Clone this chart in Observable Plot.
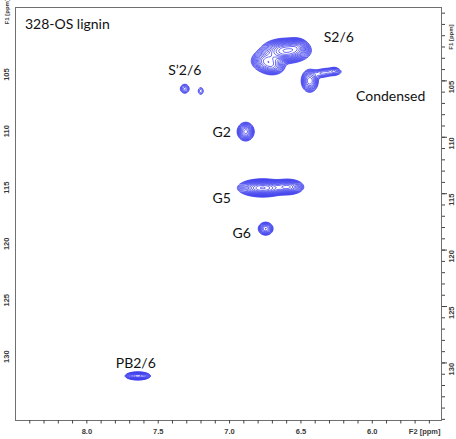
<!DOCTYPE html>
<html><head><meta charset="utf-8">
<script src="https://cdn.jsdelivr.net/npm/d3@7"></script>
<script src="https://cdn.jsdelivr.net/npm/@observablehq/plot@0.6"></script>
<style>body{margin:0;background:#fff}</style>
</head><body><div id="chart"></div>
<script>
// Cross-peak components (F2 ppm, F1 ppm, relative height, widths in ppm)
const peakName   = ["S2/6", "S2/6 lobe", "S2/6 foot", "S2/6 right", "Condensed", "Condensed bridge", "Condensed tail", "Condensed tip", "S'2/6 a", "S'2/6 b", "G2", "G5", "G5 shoulder", "G6", "PB2/6"];
const peakF2     = [6.606, 6.740, 6.697, 6.530, 6.438, 6.361, 6.291, 6.265, 7.314, 7.202, 6.887, 6.768, 6.592, 6.747, 7.643];
const peakF1     = [102.34, 103.23, 103.76, 102.0, 105.0, 104.38, 104.2, 104.1, 105.7, 105.9, 109.5, 114.49, 114.4, 118.1, 131.15];
const peakHeight = [1.0, 0.45, 0.25, 0.35, 0.35, 0.10, 0.12, 0.08, 0.12, 0.07, 0.40, 1.0, 0.55, 0.30, 0.65];
const peakWidthF2 = [0.070, 0.049, 0.042, 0.035, 0.029, 0.035, 0.049, 0.017, 0.021, 0.017, 0.028, 0.070, 0.049, 0.026, 0.038];
const peakWidthF1 = [0.443, 0.443, 0.355, 0.35, 0.49, 0.22, 0.22, 0.18, 0.27, 0.29, 0.39, 0.32, 0.30, 0.29, 0.15];

// Contour levels (relative)
const contourLevels = [0.04, 0.049, 0.06, 0.073, 0.089, 0.108, 0.132, 0.161, 0.197, 0.24, 0.293, 0.357, 0.436, 0.532, 0.649, 0.792, 0.966];

// Labels
const labelText = ["S’2/6", "S2/6", "Condensed", "G2", "G5", "G6", "PB2/6"];
const labelF2   = [7.314, 6.235, 5.871, 7.055, 7.055, 6.915, 7.657];
const labelF1   = [104.11, 101.19, 106.42, 109.6, 115.46, 118.56, 130.09];
const titleText = ["328-OS lignin"];
const titleF2 = [8.434];
const titleF1 = [100.04];

// Axes
const xDomain = [8.5, 5.515];
const yDomain = [135.1, 98.5];
const xMajorTicks = [8.0, 7.5, 7.0, 6.5, 6.0];
const xMinorTicks = [8.4, 8.3, 8.2, 8.1, 8.0, 7.9, 7.8, 7.7, 7.6, 7.5, 7.4, 7.3, 7.2, 7.1, 7.0, 6.9, 6.8, 6.7, 6.6, 6.5, 6.4, 6.3, 6.2, 6.1, 6.0, 5.9, 5.8, 5.7, 5.6];
const yMajorTicks = [105, 110, 115, 120, 125, 130];
const yMinorTicks = [99,100,101,102,103,104,105,106,107,108,109,110,111,112,113,114,115,116,117,118,119,120,121,122,123,124,125,126,127,128,129,130,131,132,133,134,135];
const xAxisTitle = ["F2 [ppm]"];
const xAxisTitleF2 = [5.633];
const yAxisTitle = ["F1 [ppm]"];
const yAxisTitleF1 = [100.0];

function spectrum(x, y) {
  let s = 0;
  for (let i = 0; i < peakF2.length; i++) {
    const dx = (x - peakF2[i]) / peakWidthF2[i];
    const dy = (y - peakF1[i]) / peakWidthF1[i];
    s += peakHeight[i] * Math.exp(-0.5 * (dx * dx + dy * dy));
  }
  return s;
}

const tickFont = {fontFamily: "Liberation Sans, Arial, sans-serif", fontSize: 7.5, fontWeight: "bold", fill: "#3a3a3a"};
const smallFont = {fontFamily: "Liberation Sans, Arial, sans-serif", fontSize: 6, fontWeight: "bold", fill: "#3a3a3a"};
const labelFont = {fontFamily: "Lato, sans-serif", fontSize: 14, fill: "#111"};

const chart = Plot.plot({
  width: 456, height: 439,
  marginLeft: 15, marginRight: 15, marginTop: 7, marginBottom: 19,
  style: {background: "#fff", overflow: "visible"},
  x: {domain: xDomain},
  y: {domain: yDomain},
  marks: [
    Plot.contour({value: spectrum, x1: xDomain[0], x2: xDomain[1], y1: yDomain[1], y2: yDomain[0],
      thresholds: contourLevels, pixelSize: 1, fill: "none", stroke: "#4040ee", strokeWidth: 0.75}),
    Plot.frame({stroke: "#707070", strokeWidth: 1}),
    Plot.axisX({ticks: xMinorTicks, anchor: "bottom", tickSize: 3.5, tickFormat: () => "", stroke: "#444"}),
    Plot.axisY({ticks: yMinorTicks, anchor: "right", tickSize: 3, tickFormat: () => "", stroke: "#444"}),
    Plot.axisY({ticks: yMajorTicks, anchor: "right", tickSize: 5, tickFormat: () => "", stroke: "#444"}),
    Plot.text(xMajorTicks, {x: d => d, frameAnchor: "bottom", dy: 13, text: d => d.toFixed(1), ...tickFont}),
    Plot.text(xAxisTitle, {x: (d, i) => xAxisTitleF2[i], frameAnchor: "bottom", dy: 13, text: d => d, ...tickFont}),
    Plot.text(yMajorTicks, {y: d => d, frameAnchor: "right", dx: 10, rotate: -90, text: d => String(d), ...tickFont}),
    Plot.text(yMajorTicks, {y: d => d, frameAnchor: "left", dx: -9, rotate: -90, text: d => String(d), ...tickFont}),
    Plot.text(yAxisTitle, {y: (d, i) => yAxisTitleF1[i], frameAnchor: "right", dx: 10, rotate: -90, text: d => d, ...smallFont}),
    Plot.text(yAxisTitle, {y: (d, i) => yAxisTitleF1[i], frameAnchor: "left", dx: -8, rotate: -90, text: d => d, ...smallFont}),
    Plot.text(labelText, {x: (d, i) => labelF2[i], y: (d, i) => labelF1[i], text: d => d, ...labelFont}),
    Plot.text(titleText, {x: (d, i) => titleF2[i], y: (d, i) => titleF1[i], text: d => d, textAnchor: "start", ...labelFont})
  ]
});
document.getElementById("chart").append(chart);
</script></body></html>
